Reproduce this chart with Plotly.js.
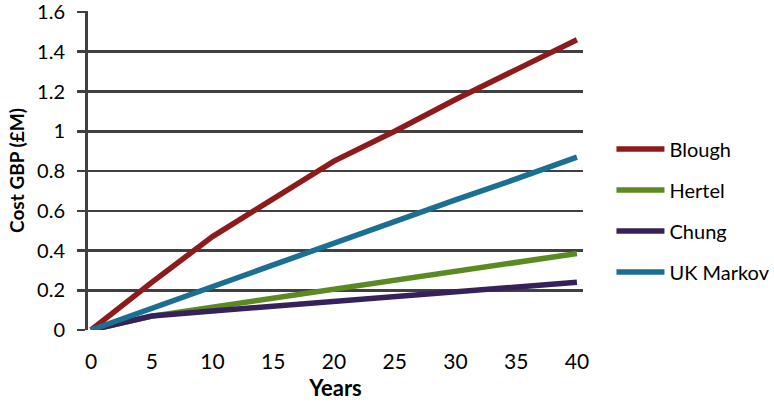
<!DOCTYPE html>
<html>
<head>
<meta charset="utf-8">
<script src="https://cdn.plot.ly/plotly-3.0.1.min.js"></script>
<style>html,body{margin:0;padding:0;background:#fff;}#chart{width:774px;height:405px;}</style>
</head>
<body>
<div id="chart"></div>
<script>
const years = [0, 5, 10, 15, 20, 25, 30, 35, 40];
const blough = [0, 0.24, 0.47, 0.66, 0.85, 1.0, 1.16, 1.31, 1.46];
const hertel = [0, 0.07, 0.115, 0.16, 0.205, 0.25, 0.295, 0.34, 0.385];
const chung = [0, 0.07, 0.096, 0.12, 0.145, 0.168, 0.192, 0.216, 0.24];
const ukMarkov = [0, 0.11, 0.22, 0.33, 0.44, 0.545, 0.655, 0.76, 0.87];
const seriesNames = ["Blough", "Hertel", "Chung", "UK Markov"];
const seriesColors = ["#8e1b1b", "#5b8a22", "#37215b", "#1a6f92"];
const seriesData = [blough, hertel, chung, ukMarkov];
const yTicks = [0, 0.2, 0.4, 0.6, 0.8, 1, 1.2, 1.4, 1.6];
const yTickText = ["0", "0.2", "0.4", "0.6", "0.8", "1", "1.2", "1.4", "1.6"];
const xTicks = [0, 5, 10, 15, 20, 25, 30, 35, 40];

const FONT = "Lato, 'Open Sans', sans-serif";
const traces = seriesNames.map((n, i) => ({
  x: years, y: seriesData[i], name: n, type: "scatter", mode: "lines",
  line: {color: seriesColors[i], width: 5.5}, legendgroup: "g" + i
}));

const layout = {
  width: 774, height: 405,
  margin: {l: 88, r: 191, t: 11, b: 75},
  paper_bgcolor: "#fff", plot_bgcolor: "#fff",
  font: {family: FONT, color: "#000", size: 20},
  showlegend: true,
  legend: {xref: "container", yref: "container", x: 0.79, y: 0.48,
    xanchor: "left", yanchor: "middle", tracegroupgap: 12,
    font: {family: FONT, size: 20, color: "#000"}, itemwidth: 48, bgcolor: "rgba(0,0,0,0)"},
  xaxis: {range: [-0.25, 40.5], tickvals: xTicks, showgrid: false, zeroline: false,
    showline: false, ticks: "", ticklabelstandoff: 17, automargin: false,
    tickfont: {family: FONT, size: 21, color: "#000"},
    title: {text: "<b>Years</b>", font: {family: FONT, size: 22, color: "#000"}, standoff: 8}},
  yaxis: {range: [0, 1.605], tickvals: yTicks, ticktext: yTickText, showgrid: true,
    gridcolor: "#404040", gridwidth: 2.5, zeroline: false, automargin: false,
    showline: true, linecolor: "#404040", linewidth: 3,
    ticks: "outside", ticklen: 8, tickwidth: 2.5, tickcolor: "#404040",
    ticklabelstandoff: 8, ticklabeloverflow: "allow",
    tickfont: {family: FONT, size: 20, color: "#000"},
    title: {text: "<b>Cost GBP (£M)</b>", font: {family: FONT, size: 19, color: "#000"}, standoff: 8}}
};

Plotly.newPlot("chart", traces, layout, {staticPlot: true, displayModeBar: false});
</script>
</body>
</html>
